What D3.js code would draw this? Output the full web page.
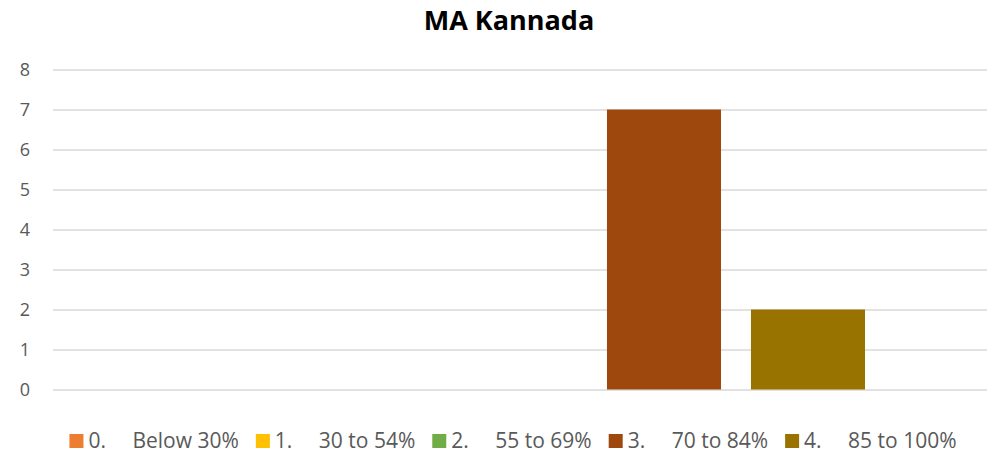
<!DOCTYPE html>
<html>
<head>
<meta charset="utf-8">
<script src="https://cdn.jsdelivr.net/npm/d3@7"></script>
<style>
  body { margin: 0; background: #fff; }
  text { font-family: "Open Sans", "Noto Sans", sans-serif; }
</style>
</head>
<body>
<div id="chart"></div>
<script>
// chart data
let chartTitle = "MA Kannada";
let categories = [""];
let seriesNums = ["0.", "1.", "2.", "3.", "4."];
let seriesNames = ["Below 30%", "30 to 54%", "55 to 69%", "70 to 84%", "85 to 100%"];
let seriesValues = [0, 0, 0, 7, 2];
let seriesColors = ["#ED7D31", "#FFC000", "#70AD47", "#9E480E", "#997300"];
let yTicks = [0, 1, 2, 3, 4, 5, 6, 7, 8];

let svgWidth = 993;
let svgHeight = 456;

let margin = { top: 69.5, right: 6, bottom: 66.5, left: 53 };
let width = svgWidth - margin.left - margin.right;
let height = svgHeight - margin.top - margin.bottom;

let svg = d3.select("#chart")
    .append("svg")
    .attr("width", svgWidth)
    .attr("height", svgHeight);

// title
svg.append("text")
    .attr("x", 509)
    .attr("y", 30)
    .attr("text-anchor", "middle")
    .attr("font-size", "27px")
    .attr("font-weight", "bold")
    .attr("fill", "#000")
    .text(chartTitle);

let chartGroup = svg.append("g")
    .attr("transform", `translate(${margin.left}, ${margin.top})`);

// scales
let yScale = d3.scaleLinear()
    .domain([0, 8])
    .range([height, 0]);

let x0 = d3.scaleBand()
    .domain(categories)
    .range([0, width])
    .paddingInner(0)
    .paddingOuter(0.1768);

let x1 = d3.scaleBand()
    .domain(seriesNames)
    .range([0, x0.bandwidth()])
    .paddingInner(0.208)
    .paddingOuter(0);

// gridlines
let leftAxis = d3.axisLeft(yScale)
    .tickValues(yTicks)
    .tickSize(-width)
    .tickPadding(23);

let yAxis = chartGroup.append("g")
    .call(leftAxis);

yAxis.select(".domain").remove();
yAxis.selectAll(".tick line")
    .attr("stroke", "#d9d9d9")
    .attr("stroke-width", 1.4);
yAxis.selectAll(".tick text")
    .attr("font-family", "'Open Sans', sans-serif")
    .attr("font-size", "18px")
    .attr("fill", "#595959");

// bars
let groups = chartGroup.selectAll(".cat")
    .data(categories)
    .enter()
    .append("g")
    .attr("transform", d => `translate(${x0(d)}, 0)`);

groups.selectAll("rect")
    .data(seriesNames.map((name, i) => ({ name: name, value: seriesValues[i], color: seriesColors[i] })))
    .enter()
    .append("rect")
    .attr("x", d => x1(d.name))
    .attr("y", d => yScale(d.value))
    .attr("width", x1.bandwidth())
    .attr("height", d => height - yScale(d.value))
    .attr("fill", d => d.color);

// legend
let legendGroup = svg.append("g");
let cursor = 0;
seriesNames.forEach(function (name, i) {
    let item = legendGroup.append("g")
        .attr("transform", `translate(${cursor}, 0)`);
    item.append("rect")
        .attr("x", 0)
        .attr("y", 434)
        .attr("width", 14)
        .attr("height", 14)
        .attr("fill", seriesColors[i]);
    item.append("text")
        .attr("x", 19)
        .attr("y", 448)
        .attr("font-size", "21px")
        .attr("fill", "#595959")
        .text(seriesNums[i]);
    let label = item.append("text")
        .attr("x", 63)
        .attr("y", 448)
        .attr("font-size", "21px")
        .attr("fill", "#595959")
        .text(name);
    cursor += 63 + label.node().getComputedTextLength() + 17;
});
let legendWidth = cursor - 17;
legendGroup.attr("transform", `translate(${513 - legendWidth / 2}, 0)`);
</script>
</body>
</html>
